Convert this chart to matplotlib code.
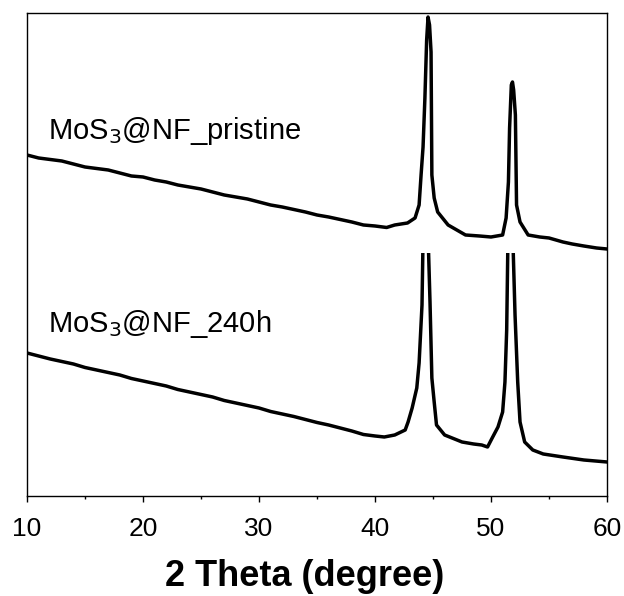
import numpy as np
import matplotlib
matplotlib.use('Agg')
import matplotlib.pyplot as plt
from matplotlib.patches import Rectangle

plt.rcParams['font.family'] = ['Liberation Sans', 'DejaVu Sans']

# Datos (intensidad en unidades arbitrarias)
tt_pristine = [10, 11, 12, 13, 14, 15, 16, 17, 18, 19, 20, 21, 22, 23, 24, 25,
               26, 27, 28, 29, 30, 31, 32, 33, 34, 35, 36, 37, 38, 39, 40, 41,
               41.7, 42.8, 43.45, 43.8, 43.97, 44.14, 44.3, 44.45, 44.57, 44.7,
               44.83, 44.9, 45.1, 45.4, 46.3, 47.8, 49.0, 50.0, 51.0, 51.3,
               51.5, 51.6, 51.75, 51.85, 51.95, 52.1, 52.2, 52.5, 53.2, 54.2,
               55.0, 56.2, 57.0, 58.0, 59.1, 60.0]
I_pristine = [341, 338, 336.5, 335, 332, 329, 327.5, 326, 323, 320, 319, 316,
              314, 311, 309, 307, 304, 301, 299, 297, 294, 291, 289, 286.5,
              284, 281, 279, 276.5, 274, 271, 270, 268.5,
              271, 273, 278, 291, 321, 349, 398, 456, 479, 471,
              444, 321, 298, 284, 271, 261, 260, 259, 261, 278,
              314, 368, 411, 414, 406, 381, 291, 274, 261, 259,
              258, 254, 252, 250, 248, 247]

tt_240h = [10, 11, 12, 13, 14, 15, 16, 17, 18, 19, 20, 21, 22, 23, 24, 25, 26,
           27, 28, 29, 30, 31, 32, 33, 34, 35, 36, 37, 38, 39, 40, 40.8, 41.7,
           42.6, 42.85, 43.2, 43.6, 43.8, 44.05, 44.13, 44.15, 44.57, 44.6,
           44.74, 44.9, 45.1, 45.3, 46.0, 47.5, 48.5, 49.2, 49.7, 50.1, 50.6,
           51.0, 51.2, 51.35, 51.45, 51.47, 51.88, 51.9, 52.07, 52.3, 52.5,
           52.9, 53.6, 54.5, 56.2, 58.0, 60.0]
I_240h = [143, 140, 137, 134.5, 132, 128.5, 126, 123.5, 121, 117.5, 115, 112.5,
          110, 106.5, 104, 101.5, 99, 95.5, 93, 90.5, 88, 84.5, 82, 79.5, 76.5,
          73.5, 71, 68, 65, 61.5, 60, 59, 61,
          66, 74, 88, 108, 133, 191, 250, 900, 900, 250,
          194, 118, 94, 71, 61, 54, 52, 51, 49, 58, 69,
          84, 114, 166, 250, 900, 900, 250, 181, 114, 74,
          54, 46, 42, 39, 36, 34]

labels = ['MoS$_3$@NF_pristine', 'MoS$_3$@NF_240h']
corte_240h = 243  # los picos de la muestra 240h estan cortados

fig = plt.figure(figsize=(6.24, 5.96), dpi=100)
ax = fig.add_axes([0.0433, 0.1678, 0.9295, 0.8104])

ax.plot(tt_pristine, I_pristine, color='black', lw=2.5)
linea, = ax.plot(tt_240h, I_240h, color='black', lw=2.5)
linea.set_clip_path(Rectangle((10, 0), 50, corte_240h, transform=ax.transData))

ax.text(11.8, 357, labels[0], fontsize=21, va='baseline')
ax.text(11.8, 164, labels[1], fontsize=21, va='baseline')

ax.set_xlim(10, 60)
ax.set_ylim(0, 483)
ax.set_yticks([])
ax.set_xticks(np.arange(10, 61, 10))
ax.set_xticks(np.arange(15, 60, 10), minor=True)
ax.tick_params(axis='x', which='major', direction='out', length=4.5, width=1.0,
               labelsize=19, pad=10.5)
ax.tick_params(axis='x', which='minor', direction='out', length=2.5, width=1.0)
for s in ax.spines.values():
    s.set_linewidth(1.0)
ax.set_xlabel('2 Theta (degree)', fontsize=26, fontweight='bold', labelpad=13,
              x=0.479)

plt.savefig('out.png', dpi=100)
